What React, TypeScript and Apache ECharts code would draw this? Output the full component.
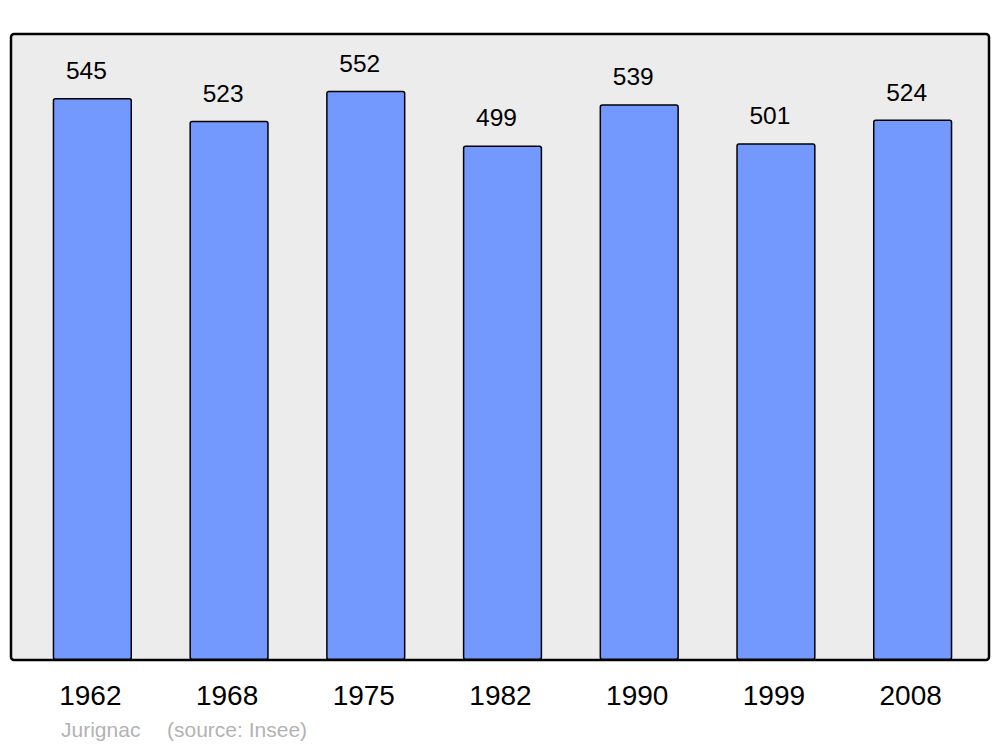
import React, { useEffect, useRef } from "react";
import * as echarts from "echarts";

const years = ["1962", "1968", "1975", "1982", "1990", "1999", "2008"];
const population = [545, 523, 552, 499, 539, 501, 524];
const footerName = "Jurignac";
const footerSource = "(source: Insee)";

export default function App() {
  const ref = useRef<HTMLDivElement>(null);
  useEffect(() => {
    const chart = echarts.init(ref.current!, null, { renderer: "svg" });
    const font = '21px "Liberation Sans", Arial, sans-serif';
    chart.setOption({
      animation: false,
      backgroundColor: "#ffffff",
      graphic: [
        {
          type: "rect",
          z: -10,
          silent: true,
          shape: { x: 11, y: 34, width: 978, height: 626, r: 3 },
          style: { fill: "#ececec", stroke: "#000", lineWidth: 2.5 },
        },
        {
          type: "text",
          left: 61,
          top: 719,
          style: { text: footerName, fill: "#b3b3b3", font },
        },
        {
          type: "text",
          left: 167,
          top: 719,
          style: { text: footerSource, fill: "#b3b3b3", font },
        },
      ],
      grid: { left: 24, right: 19, top: 34, bottom: 87, containLabel: false },
      xAxis: {
        type: "category",
        data: years,
        axisLine: { show: false },
        axisTick: { show: false },
        axisLabel: {
          margin: 21,
          color: "#000",
          fontSize: 28,
          padding: [0, 4, 0, 0],
          fontFamily: '"Liberation Sans", Arial, sans-serif',
        },
      },
      yAxis: {
        type: "value",
        min: 0,
        max: 607,
        show: false,
        splitLine: { show: false },
      },
      series: [
        {
          type: "bar",
          data: population,
          barWidth: "58%",
          itemStyle: {
            color: "#7399ff",
            borderColor: "#000",
            borderWidth: 1.5,
            borderRadius: 2,
          },
          label: {
            show: true,
            position: "top",
            distance: 15,
            offset: [-6, 0],
            color: "#000",
            fontSize: 24.5,
            fontFamily: '"Liberation Sans", Arial, sans-serif',
          },
        },
      ],
    });
    return () => chart.dispose();
  }, []);
  return (
    <div
      ref={ref}
      style={{ position: "absolute", left: 0, top: 0, width: 1000, height: 747 }}
    />
  );
}
